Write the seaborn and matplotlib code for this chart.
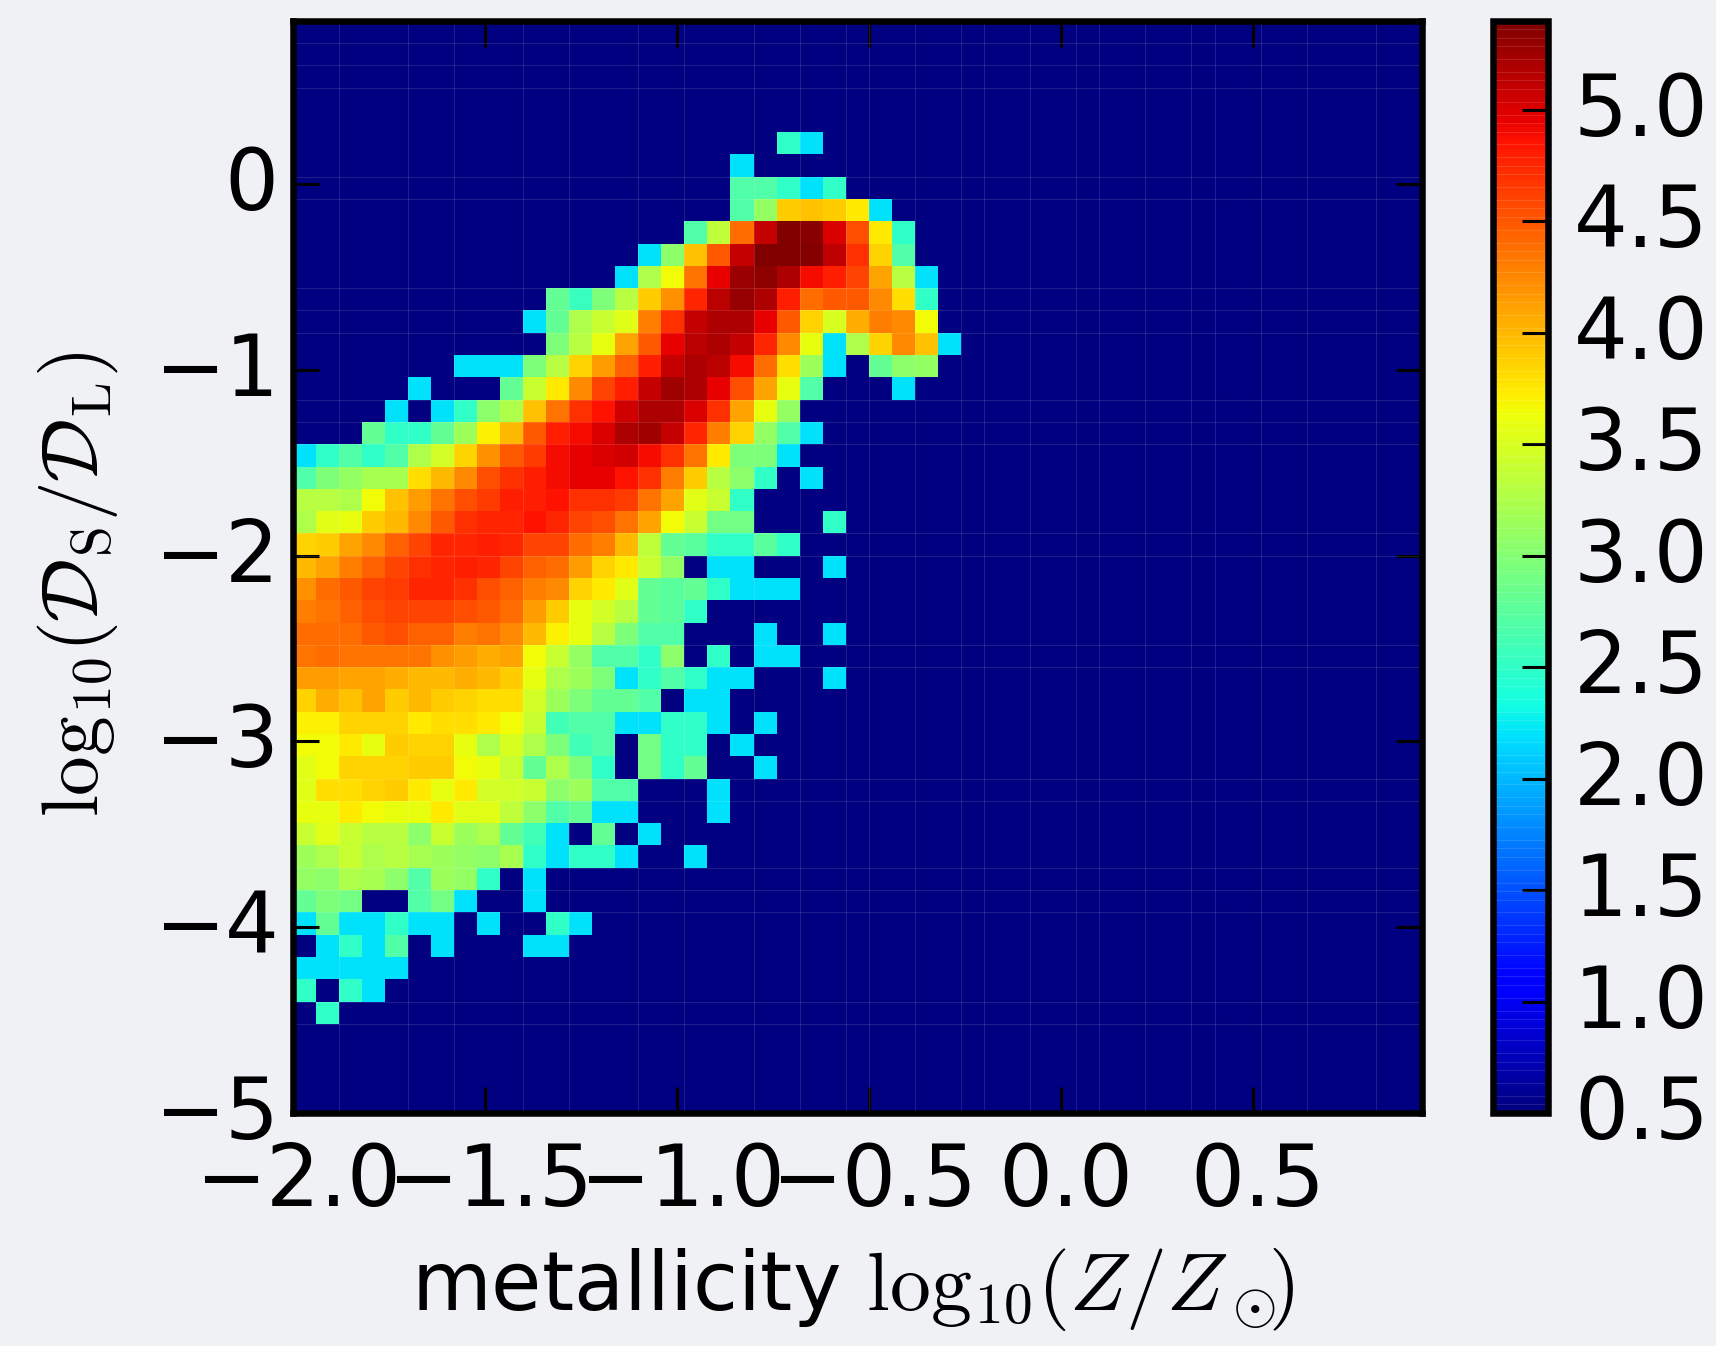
import matplotlib
matplotlib.use('Agg')
import matplotlib.pyplot as plt
from matplotlib.transforms import ScaledTranslation
import numpy as np
import seaborn as sns

# --- 1. Data: log10 counts per bin (0 = empty bin) ---
# Each row runs left to right from the first metallicity bin, bottom row first.
row_04 = [0, 2.5]
row_05 = [2.5, 0, 2.5, 2.2]
row_06 = [2.2, 2.2, 2.2, 2.2, 2.2]
row_07 = [0, 2.2, 2.5, 2.2, 2.7, 0, 2.2, 0, 0, 0, 2.2, 2.2]
row_08 = [2.2, 2.8, 2.2, 2.2, 2.5, 2.2, 2.2, 0, 2.2, 0, 0, 2.5, 2.2]
row_09 = [2.8, 2.95, 2.9, 0, 0, 2.7, 2.9, 2.2, 0, 0, 2.2]
row_10 = [3.1, 3.05, 3.25, 3.2, 3.05, 2.7, 3.15, 3.1, 2.5, 0, 2.2]
row_11 = [3.15, 3.25, 3.4, 3.25, 3.3, 3.2, 3.15, 3.1, 3.05, 3.2, 2.5, 2.2, 2.5, 2.5, 2.2, 0, 0, 2.2]
row_12 = [3.4, 3.55, 3.4, 3.3, 3.3, 3.05, 3.4, 3.15, 3.25, 2.8, 2.6, 2.2, 0, 2.8, 0, 2.2]
row_13 = [3.6, 3.6, 3.75, 3.65, 3.6, 3.6, 3.75, 3.55, 3.55, 3.35, 3.05, 2.7, 2.8, 2.2, 2.2, 0, 0, 0, 2.2]
row_14 = [3.55, 3.8, 3.8, 3.85, 3.9, 3.75, 3.6, 3.75, 3.45, 3.45, 3.4, 3.05, 3.15, 2.7, 2.7, 0, 0, 0, 2.2]
row_15 = [3.55, 3.65, 3.85, 3.85, 3.85, 3.9, 3.9, 3.65, 3.6, 3.4, 2.8, 3.25, 2.95, 2.5, 0, 2.9, 2.5, 2.8, 0, 0, 2.2]
row_16 = [3.65, 3.65, 3.75, 3.6, 3.9, 3.85, 3.85, 3.6, 3.25, 3.5, 3.25, 2.95, 2.6, 2.7, 0, 2.9, 2.5, 2.5, 0, 2.2]
row_17 = [3.7, 3.7, 3.85, 3.85, 3.85, 3.75, 3.8, 3.8, 3.75, 3.65, 3.4, 2.6, 2.7, 2.7, 2.2, 2.2, 2.5, 2.5, 2.2, 0, 2.2]
row_18 = [3.85, 4.05, 3.95, 4.1, 3.9, 4.0, 3.9, 3.85, 3.8, 3.8, 3.45, 3.15, 2.95, 2.8, 2.8, 2.7, 0, 2.2, 2.2]
row_19 = [4.15, 4.15, 4.1, 4.1, 4.05, 4.0, 4.0, 4.05, 4.0, 3.9, 3.6, 3.25, 3.15, 2.95, 2.2, 2.5, 2.7, 2.5, 2.2, 2.2, 0, 0, 0, 2.2]
row_20 = [4.35, 4.4, 4.35, 4.35, 4.35, 4.35, 4.2, 4.15, 4.05, 4.1, 3.65, 3.4, 3.1, 2.7, 2.7, 2.5, 3.05, 0, 2.5, 0, 2.2, 2.2]
row_21 = [4.4, 4.4, 4.4, 4.5, 4.55, 4.45, 4.45, 4.3, 4.35, 4.25, 4.0, 3.7, 3.6, 3.3, 2.95, 2.7, 2.7, 0, 0, 0, 2.2, 0, 0, 2.2]
row_22 = [4.3, 4.35, 4.45, 4.55, 4.6, 4.6, 4.6, 4.55, 4.5, 4.4, 4.15, 3.9, 3.6, 3.45, 3.3, 2.8, 2.75, 2.5]
row_23 = [4.2, 4.4, 4.5, 4.6, 4.65, 4.75, 4.75, 4.7, 4.55, 4.45, 4.3, 4.25, 3.85, 3.75, 3.55, 2.8, 2.75, 2.8, 2.5, 2.2, 2.2, 2.2]
row_24 = [4.0, 4.1, 4.3, 4.45, 4.6, 4.7, 4.75, 4.8, 4.75, 4.6, 4.45, 4.4, 4.15, 3.85, 3.75, 3.4, 3.1, 0, 2.2, 2.2, 0, 0, 0, 2.2]
row_25 = [3.85, 3.9, 4.1, 4.25, 4.45, 4.6, 4.75, 4.75, 4.8, 4.75, 4.6, 4.6, 4.4, 4.3, 4.0, 3.35, 2.8, 2.75, 2.5, 2.5, 2.75, 2.5]
row_26 = [3.25, 3.55, 3.6, 3.9, 4.0, 4.25, 4.5, 4.7, 4.75, 4.75, 4.85, 4.75, 4.6, 4.55, 4.35, 4.1, 3.65, 3.4, 2.9, 2.9, 0, 0, 0, 2.5]
row_27 = [3.3, 3.3, 3.25, 3.65, 3.95, 4.15, 4.35, 4.55, 4.65, 4.8, 4.8, 4.85, 4.7, 4.7, 4.65, 4.35, 4.1, 3.55, 3.4, 2.5]
row_28 = [2.7, 2.95, 3.1, 3.2, 3.2, 3.8, 4.0, 4.25, 4.55, 4.7, 4.8, 4.9, 4.95, 4.95, 4.85, 4.7, 4.3, 3.9, 3.3, 3.05, 2.5, 0, 2.2]
row_29 = [2.2, 2.5, 2.7, 2.5, 2.7, 3.25, 3.45, 3.85, 4.2, 4.5, 4.65, 4.9, 4.95, 5.0, 5.05, 4.9, 4.7, 4.35, 3.75, 2.95, 2.95, 2.2]
row_30 = [0, 0, 0, 2.8, 2.5, 2.5, 2.8, 3.15, 3.7, 4.0, 4.5, 4.8, 4.9, 5.0, 5.2, 5.25, 5.1, 4.75, 4.3, 3.85, 3.1, 2.7, 2.2]
row_31 = [0, 0, 0, 0, 2.2, 0, 2.2, 2.5, 3.05, 3.25, 3.95, 4.35, 4.7, 4.85, 5.05, 5.2, 5.2, 5.0, 4.7, 4.1, 3.6, 3.1]
row_32 = [0, 0, 0, 0, 0, 2.2, 0, 0, 0, 2.8, 3.4, 3.75, 4.25, 4.6, 4.8, 5.1, 5.25, 5.2, 4.95, 4.55, 4.1, 3.6, 2.7, 0, 0, 0, 2.2]
row_33 = [0, 0, 0, 0, 0, 0, 0, 2.2, 2.2, 2.2, 2.95, 3.3, 3.85, 4.15, 4.45, 4.8, 5.1, 5.2, 5.15, 4.9, 4.4, 3.8, 3.15, 2.2, 0, 2.8, 3.05, 3.1]
row_34 = [0, 0, 0, 0, 0, 0, 0, 0, 0, 0, 0, 2.95, 3.3, 3.6, 4.1, 4.5, 4.95, 5.15, 5.2, 5.1, 4.75, 4.25, 3.6, 2.2, 3.25, 3.85, 4.25, 3.95, 2.2]
row_35 = [0, 0, 0, 0, 0, 0, 0, 0, 0, 0, 2.2, 2.8, 3.25, 3.4, 3.55, 4.3, 4.7, 5.1, 5.2, 5.2, 4.95, 4.5, 3.85, 3.5, 4.05, 4.3, 4.25, 3.65]
row_36 = [0, 0, 0, 0, 0, 0, 0, 0, 0, 0, 0, 2.8, 2.55, 2.95, 3.3, 3.9, 4.2, 4.75, 5.15, 5.3, 5.2, 4.8, 4.4, 4.5, 4.5, 4.25, 3.8, 2.5]
row_37 = [0, 0, 0, 0, 0, 0, 0, 0, 0, 0, 0, 0, 0, 0, 2.2, 3.25, 3.65, 4.35, 4.95, 5.27, 5.33, 5.2, 4.9, 4.8, 4.6, 4.1, 3.3, 2.2]
row_38 = [0, 0, 0, 0, 0, 0, 0, 0, 0, 0, 0, 0, 0, 0, 0, 2.2, 3.05, 3.95, 4.5, 5.1, 5.4, 5.4, 5.37, 5.12, 4.7, 3.85, 2.7]
row_39 = [0, 0, 0, 0, 0, 0, 0, 0, 0, 0, 0, 0, 0, 0, 0, 0, 0, 2.7, 3.35, 4.4, 5.1, 5.4, 5.35, 5.0, 4.55, 3.75, 2.5]
row_40 = [0, 0, 0, 0, 0, 0, 0, 0, 0, 0, 0, 0, 0, 0, 0, 0, 0, 0, 0, 2.7, 3.1, 3.9, 3.95, 3.9, 3.75, 2.2]
row_41 = [0, 0, 0, 0, 0, 0, 0, 0, 0, 0, 0, 0, 0, 0, 0, 0, 0, 0, 0, 2.7, 2.7, 2.5, 2.2, 2.5]
row_42 = [0, 0, 0, 0, 0, 0, 0, 0, 0, 0, 0, 0, 0, 0, 0, 0, 0, 0, 0, 2.2]
row_43 = [0, 0, 0, 0, 0, 0, 0, 0, 0, 0, 0, 0, 0, 0, 0, 0, 0, 0, 0, 0, 0, 2.5, 2.2]

rows = [row_04, row_05, row_06, row_07, row_08, row_09, row_10, row_11, row_12, row_13,
        row_14, row_15, row_16, row_17, row_18, row_19, row_20, row_21, row_22, row_23,
        row_24, row_25, row_26, row_27, row_28, row_29, row_30, row_31, row_32, row_33,
        row_34, row_35, row_36, row_37, row_38, row_39, row_40, row_41, row_42, row_43]
first_row = 4
n_bins = 49

x_min, x_step = -2.0, 0.06
y_min, y_step = -5.0, 0.12
x_ticks = [-2.0, -1.5, -1.0, -0.5, 0.0, 0.5]
x_tick_labels = ['\u22122.0', '\u22121.5', '\u22121.0', '\u22120.5', '0.0', '0.5']
y_ticks = [-5, -4, -3, -2, -1, 0]
y_tick_labels = ['\u22125', '\u22124', '\u22123', '\u22122', '\u22121', '0']
cbar_ticks = [0.5, 1.0, 1.5, 2.0, 2.5, 3.0, 3.5, 4.0, 4.5, 5.0]
cbar_tick_labels = ['0.5', '1.0', '1.5', '2.0', '2.5', '3.0', '3.5', '4.0', '4.5', '5.0']
v_min, v_max = 0.5, 5.4

# faint seams the original renderer left between some bins (bin edge numbers)
x_seams = [2, 5, 7, 10, 12, 15, 17, 20, 22, 24, 25, 27, 29, 30, 32, 34, 35, 37, 39, 40, 42, 44, 47]
y_seams = [4, 5, 9, 10, 11, 14, 15, 20, 21, 25, 26, 30, 31, 32, 35, 36, 37, 41, 42, 46, 47, 48]

grid = np.zeros((n_bins, n_bins))
for i, r in enumerate(rows):
    grid[first_row + i, :len(r)] = r

# --- 2. Figure ---
W, H = 1716, 1346
bg = '#eff1f5'
plt.rcParams['mathtext.fontset'] = 'cm'
plt.rcParams['axes.linewidth'] = 4.7
fig = plt.figure(figsize=(W / 100, H / 100), dpi=100, facecolor=bg)
ax = fig.add_axes([292.5 / W, 1 - 1113 / H, (1422 - 292.5) / W, (1113 - 20.7) / H])
cax = fig.add_axes([1492.5 / W, 1 - 1113 / H, 55 / W, (1113 - 20.7) / H])

sns.heatmap(grid, ax=ax, cbar_ax=cax, cmap='jet', vmin=v_min, vmax=v_max, square=False,
            xticklabels=False, yticklabels=False, linewidths=0,
            cbar_kws={'ticks': cbar_ticks})
ax.set_xlim(0, n_bins)
ax.set_ylim(0, n_bins)

# seams
ax.vlines(x_seams, 0, n_bins, color='white', alpha=0.12, linewidth=0.8, zorder=2)
ax.hlines(y_seams, 0, n_bins, color='white', alpha=0.12, linewidth=0.8, zorder=2)

# --- 3. Axes styling ---
ax.set_xticks([(v - x_min) / x_step for v in x_ticks])
ax.set_xticklabels(x_tick_labels, rotation=0)
ax.set_yticks([(v - y_min) / y_step for v in y_ticks])
ax.set_yticklabels(y_tick_labels, rotation=0)
ax.tick_params(axis='both', direction='in', length=19, width=2.2, labelsize=61, color='black',
               top=True, right=True)
ax.tick_params(axis='x', pad=20)
ax.tick_params(axis='y', pad=10)
for s in ax.spines.values():
    s.set_visible(True)
    s.set_linewidth(4.7)
    s.set_zorder(5)

ax.set_xlabel(r'metallicity $\mathrm{log}_{10}(Z/Z_\odot\!\!)$', fontsize=59)
ax.xaxis.set_label_coords(0.496, -0.122)
ax.set_ylabel(r'$\mathrm{log}_{10}(\mathcal{D}_{\rm S}/\mathcal{D}_{\rm L})$', fontsize=57)
ax.yaxis.set_label_coords(-0.153, 0.484)

cbar = ax.collections[0].colorbar
cbar.outline.set_visible(True)
cbar.outline.set_linewidth(4.7)
cbar.outline.set_edgecolor('black')
cbar.set_ticks(cbar_ticks)
cbar.set_ticklabels(cbar_tick_labels)
cax.tick_params(axis='y', direction='in', length=19, width=2.2, labelsize=61, pad=19,
                color='black', left=False, right=True)
cax.hlines(v_min + (v_max - v_min) * np.round(np.arange(2, 256, 2.5)) / 256, *cax.get_xlim(),
           color='white', alpha=0.12, linewidth=0.8)

# nudge tick labels to where the original sits
for lab in ax.get_xticklabels():
    lab.set_transform(lab.get_transform() + ScaledTranslation(0.05, 0, fig.dpi_scale_trans))
for lab in ax.get_yticklabels() + cax.get_yticklabels():
    lab.set_transform(lab.get_transform() + ScaledTranslation(0, 0.065, fig.dpi_scale_trans))

# the clipped tail of the title at the very top of the picture
fig.text(1086 / W, 1 + 18.5 / H, 'g', fontsize=61, ha='center', va='baseline')

fig.savefig('out.png', dpi=100, facecolor=bg)
